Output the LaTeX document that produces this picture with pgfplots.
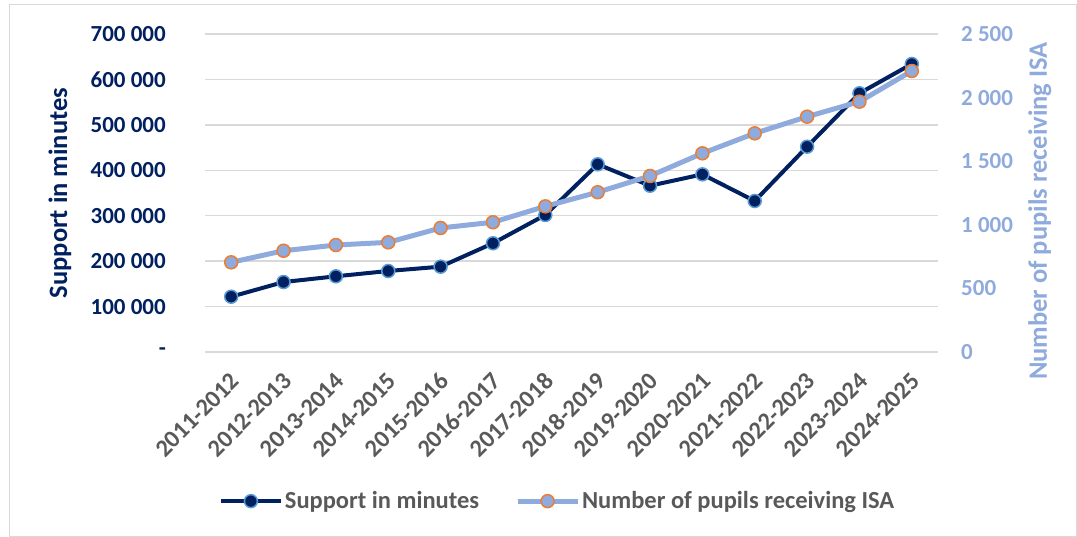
\documentclass[border=0pt]{standalone}
\usepackage{fontspec}
\setmainfont{Carlito}
\usepackage{pgfplots}
\pgfplotsset{compat=1.18}
\definecolor{navy}{HTML}{002060}
\definecolor{lblue}{HTML}{8FAADC}
\definecolor{txtgray}{HTML}{595959}
\definecolor{gridgray}{HTML}{D9D9D9}
\definecolor{orng}{HTML}{ED7D31}
\definecolor{mblue}{HTML}{5B9BD5}
\newcommand{\bigf}{\fontsize{23}{27}\selectfont\bfseries}
\newcommand{\catf}{\fontsize{24.5}{28}\selectfont\bfseries}
\newcommand{\legf}{\fontsize{24.5}{28}\selectfont\bfseries}
\newcommand{\titf}{\fontsize{26.5}{30}\selectfont\bfseries}
\begin{document}
\begin{tikzpicture}[x=1pt,y=1pt]
\useasboundingbox (0,0) rectangle (1077,537);
\draw[gridgray, line width=1pt] (9,0.5) rectangle (1076.5,532);
\begin{axis}[
  at={(205pt,185pt)}, anchor=south west, scale only axis,
  width=733pt, height=318pt,
  xmin=-0.5, xmax=13.5, ymin=0, ymax=700000,
  axis line style={draw=none}, major tick length=0pt,
  ymajorgrids, grid style={gridgray, line width=1.5pt},
  scaled y ticks=false,
  xtick={0,...,13},
  xticklabels={2011-2012,2012-2013,2013-2014,2014-2015,2015-2016,2016-2017,2017-2018,2018-2019,2019-2020,2020-2021,2021-2022,2022-2023,2023-2024,2024-2025},
  xticklabel style={font=\catf, text=txtgray, inner sep=0pt, xshift=4pt, yshift=-25pt, rotate=45, anchor=east},
  ytick={0,100000,...,700000},
  yticklabels={-\hspace{20pt},100 000,200 000,300 000,400 000,500 000,600 000,700 000},
  yticklabel style={font=\bigf, text=navy, inner sep=0pt, xshift=-39pt, anchor=east},
  ylabel={Support in minutes},
  ylabel style={font=\titf, text=navy, at={(axis description cs:-0.198,0.5)}, anchor=center},
  clip=false,
]
\addplot[navy, line width=4pt, mark=*, mark size=6.5pt, mark options={fill=navy, draw=mblue, line width=1.5pt}]
coordinates {(0,121700)(1,154000)(2,166600)(3,178300)(4,187800)(5,239300)(6,301600)(7,413200)(8,366000)(9,391000)(10,332400)(11,451900)(12,569500)(13,634000)};
\end{axis}
\begin{axis}[
  at={(205pt,185pt)}, anchor=south west, scale only axis,
  width=733pt, height=318pt,
  xmin=-0.5, xmax=13.5, ymin=0, ymax=2500,
  axis line style={draw=none}, major tick length=0pt,
  xtick=\empty,
  yticklabel pos=right,
  ytick={0,500,...,2500},
  yticklabels={0,500,1 000,1 500,2 000,2 500},
  yticklabel style={font=\bigf, text=lblue, inner sep=0pt, xshift=23pt, anchor=west},
  ylabel={Number of pupils receiving ISA},
  ylabel style={font=\titf, text=lblue, at={(axis description cs:1.139,0.443)}, anchor=center},
  clip=false,
  legend columns=2,
  legend cell align=left,
  legend style={at={(axis description cs:0.481,-0.469)}, anchor=center, draw=none, fill=none, font=\legf, text=txtgray, /tikz/every even column/.append style={column sep=34pt}},
  legend image code/.code={\draw[mark repeat=2,mark phase=2] plot coordinates {(0pt,0pt)(30pt,0pt)(60pt,0pt)};},
]
\addlegendimage{navy, line width=4pt, mark=*, mark size=6.5pt, mark options={fill=navy, draw=mblue, line width=1.5pt}}
\addlegendentry{Support in minutes}
\addplot[lblue, line width=5pt, mark=*, mark size=6.5pt, mark options={fill=lblue, draw=orng, line width=1.5pt}]
coordinates {(0,705)(1,796)(2,841)(3,862)(4,975)(5,1020)(6,1145)(7,1256)(8,1384)(9,1562)(10,1719)(11,1850)(12,1968)(13,2209)};
\addlegendentry{Number of pupils receiving ISA}
\end{axis}
\end{tikzpicture}
\end{document}
